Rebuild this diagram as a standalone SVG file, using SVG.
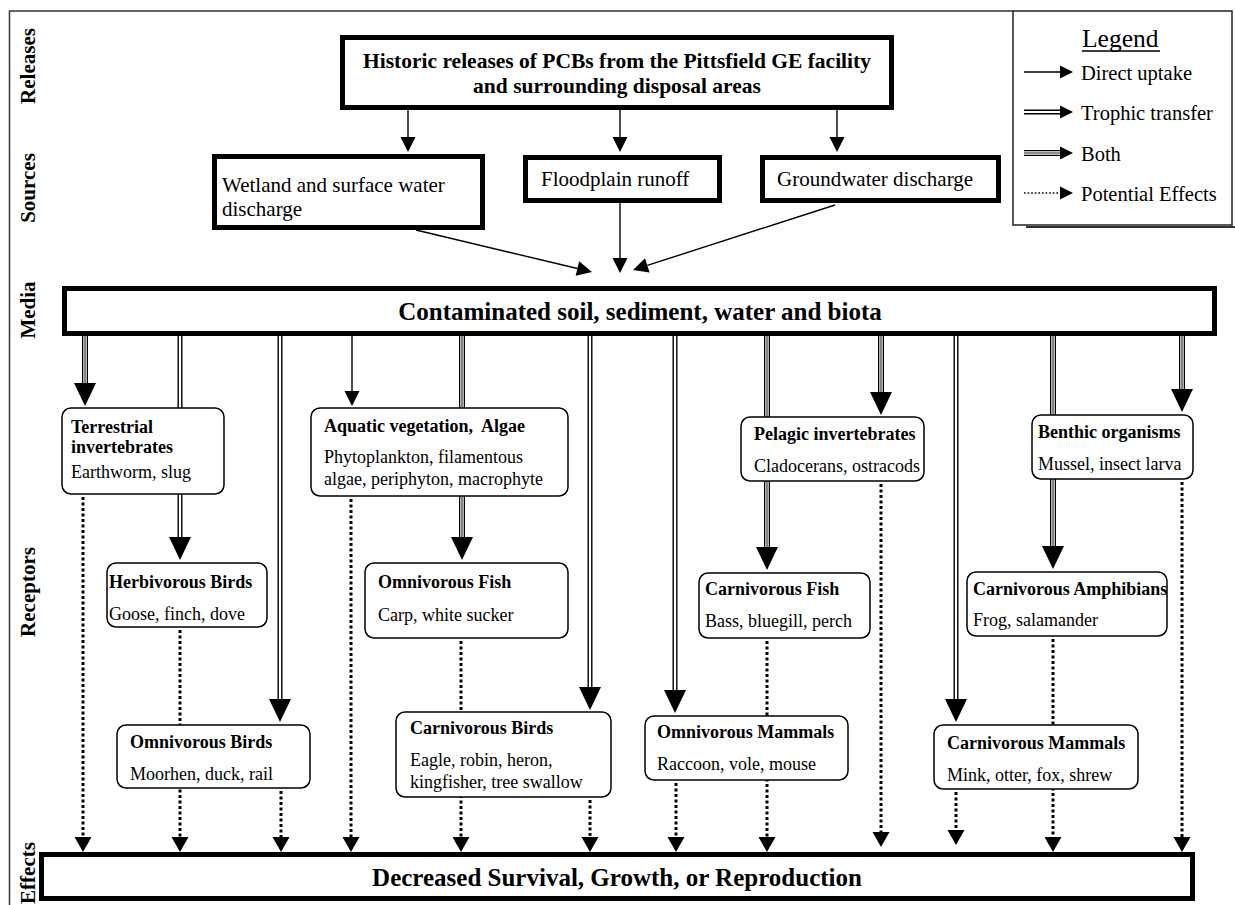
<svg xmlns="http://www.w3.org/2000/svg" width="1235" height="905" viewBox="0 0 1235 905">
  <style>
    text { font-family: "Liberation Serif", "Times New Roman", serif; fill: #000; }
    .axis { font-size: 21px; font-weight: bold; text-anchor: middle; }
    .hdr { font-size: 21.5px; font-weight: bold; text-anchor: middle; }
    .src { font-size: 21px; }
    .big { font-size: 25px; font-weight: bold; text-anchor: middle; }
    .t { font-size: 18px; font-weight: bold; white-space: pre; }
    .d { font-size: 18px; }
    .leg { font-size: 20.5px; }
    .frame { fill: none; stroke: #333; stroke-width: 1.5; }
    .heavy { fill: #fff; stroke: #000; stroke-width: 5; }
    .node { fill: #fff; stroke: #000; stroke-width: 1.5; }
    .ln { fill: none; stroke: #000; stroke-width: 1.4; }
    .to { fill: none; stroke: #000; stroke-width: 5; }
    .ti { fill: none; stroke: #fff; stroke-width: 2.2; }
    .bo { fill: none; stroke: #000; stroke-width: 6; }
    .bi { fill: none; stroke: #fff; stroke-width: 3.4; }
    .bc { fill: none; stroke: #666; stroke-width: 1.6; }
    .dot { fill: none; stroke: #000; stroke-width: 3; stroke-dasharray: 3 2.5; }
    .dotl { fill: none; stroke: #000; stroke-width: 1.6; stroke-dasharray: 1.6 2; }
  </style>
  <defs>
    <marker id="hd-sm" markerUnits="userSpaceOnUse" viewBox="0 -10 20 20" markerWidth="20" markerHeight="20" refX="0" refY="0" orient="auto" overflow="visible">
      <path d="M0,-7.5L15,0L0,7.5Z" fill="#000"/>
    </marker>
    <marker id="hd-big" markerUnits="userSpaceOnUse" viewBox="0 -15 30 30" markerWidth="30" markerHeight="30" refX="0" refY="0" orient="auto" overflow="visible">
      <path d="M0,-11L23,0L0,11Z" fill="#000"/>
    </marker>
    <marker id="hd-dot" markerUnits="userSpaceOnUse" viewBox="0 -10 20 20" markerWidth="20" markerHeight="20" refX="0" refY="0" orient="auto" overflow="visible">
      <path d="M0,-8.5L15,0L0,8.5Z" fill="#000"/>
    </marker>
    <marker id="hd-leg" markerUnits="userSpaceOnUse" viewBox="0 -10 20 20" markerWidth="20" markerHeight="20" refX="0" refY="0" orient="auto" overflow="visible">
      <path d="M0,-6.5L13,0L0,6.5Z" fill="#000"/>
    </marker>
  </defs>

  <rect width="1235" height="905" fill="#fff"/>

  <!-- outer frame -->
  <path class="frame" d="M9.5,905V11H1013"/>

  <!-- tier labels -->
  <g id="tiers">
    <text class="axis" transform="translate(35,66) rotate(-90)">Releases</text>
    <text class="axis" transform="translate(35,188) rotate(-90)">Sources</text>
    <text class="axis" transform="translate(35,310) rotate(-90)">Media</text>
    <text class="axis" transform="translate(35,592) rotate(-90)">Receptors</text>
    <text class="axis" transform="translate(35,873) rotate(-90)">Effects</text>
  </g>

  <!-- connectors -->
  <g id="connectors">
    <!-- releases to sources -->
    <path class="ln" d="M408,110V137" marker-end="url(#hd-sm)"/>
    <path class="ln" d="M620,110V137" marker-end="url(#hd-sm)"/>
    <path class="ln" d="M837,110V137" marker-end="url(#hd-sm)"/>
    <!-- sources to media -->
    <path class="ln" d="M416,230L577.4,268.5" marker-end="url(#hd-sm)"/>
    <path class="ln" d="M620,203V258" marker-end="url(#hd-sm)"/>
    <path class="ln" d="M835,205L647.3,265.4" marker-end="url(#hd-sm)"/>

    <!-- media to receptors: both -->
    <path class="bo" d="M85,336V383" marker-end="url(#hd-big)"/><path class="bi" d="M85,336V383"/><path class="bc" d="M85,336V383"/>
    <path class="bo" d="M462,336V537" marker-end="url(#hd-big)"/><path class="bi" d="M462,336V537"/><path class="bc" d="M462,336V537"/>
    <path class="bo" d="M767,336V547" marker-end="url(#hd-big)"/><path class="bi" d="M767,336V547"/><path class="bc" d="M767,336V547"/>
    <path class="bo" d="M881,336V392" marker-end="url(#hd-big)"/><path class="bi" d="M881,336V392"/><path class="bc" d="M881,336V392"/>
    <path class="bo" d="M1053,336V546" marker-end="url(#hd-big)"/><path class="bi" d="M1053,336V546"/><path class="bc" d="M1053,336V546"/>
    <path class="bo" d="M1182,336V389" marker-end="url(#hd-big)"/><path class="bi" d="M1182,336V389"/><path class="bc" d="M1182,336V389"/>

    <!-- media to receptors: trophic transfer -->
    <path class="to" d="M180,336V537" marker-end="url(#hd-big)"/><path class="ti" d="M180,336V537"/>
    <path class="to" d="M280,336V699" marker-end="url(#hd-big)"/><path class="ti" d="M280,336V699"/>
    <path class="to" d="M590,336V687" marker-end="url(#hd-big)"/><path class="ti" d="M590,336V687"/>
    <path class="to" d="M675,336V690" marker-end="url(#hd-big)"/><path class="ti" d="M675,336V690"/>
    <path class="to" d="M956,336V699" marker-end="url(#hd-big)"/><path class="ti" d="M956,336V699"/>

    <!-- media to receptors: direct uptake -->
    <path class="ln" d="M352,336V391" marker-end="url(#hd-sm)"/>

    <!-- receptors to effects -->
    <path class="dot" d="M83,497V837" marker-end="url(#hd-dot)"/>
    <path class="dot" d="M180,630V837" marker-end="url(#hd-dot)"/>
    <path class="dot" d="M281,791V837" marker-end="url(#hd-dot)"/>
    <path class="dot" d="M351,499V837" marker-end="url(#hd-dot)"/>
    <path class="dot" d="M461,641V837" marker-end="url(#hd-dot)"/>
    <path class="dot" d="M590,800V837" marker-end="url(#hd-dot)"/>
    <path class="dot" d="M676,783V837" marker-end="url(#hd-dot)"/>
    <path class="dot" d="M767,641V837" marker-end="url(#hd-dot)"/>
    <path class="dot" d="M881,484V832" marker-end="url(#hd-dot)"/>
    <path class="dot" d="M956,792V830" marker-end="url(#hd-dot)"/>
    <path class="dot" d="M1053,639V837" marker-end="url(#hd-dot)"/>
    <path class="dot" d="M1182,482V837" marker-end="url(#hd-dot)"/>
  </g>

  <!-- releases -->
  <g id="releases">
    <rect class="heavy" x="342.5" y="37.5" width="549" height="70"/>
    <text class="hdr" x="617" y="68">Historic releases of PCBs from the Pittsfield GE facility</text>
    <text class="hdr" x="617" y="93">and surrounding disposal areas</text>
  </g>

  <!-- sources -->
  <g id="src-wetland">
    <rect class="heavy" x="214.5" y="156.5" width="268" height="71"/>
    <text class="src" x="222" y="192">Wetland and surface water</text>
    <text class="src" x="222" y="216">discharge</text>
  </g>
  <g id="src-floodplain">
    <rect class="heavy" x="525.5" y="157.5" width="194" height="43"/>
    <text class="src" x="541" y="186">Floodplain runoff</text>
  </g>
  <g id="src-groundwater">
    <rect class="heavy" x="762.5" y="157.5" width="236" height="43"/>
    <text class="src" x="777" y="186">Groundwater discharge</text>
  </g>

  <!-- media -->
  <g id="media">
    <rect class="heavy" x="64.5" y="288.5" width="1150" height="45"/>
    <text class="big" x="640" y="320">Contaminated soil, sediment, water and biota</text>
  </g>

  <!-- receptors -->
  <g id="terrestrial-invertebrates">
    <rect class="node" x="62" y="408" width="162" height="86" rx="9"/>
    <text class="t" x="71" y="433">Terrestrial</text>
    <text class="t" x="71" y="453">invertebrates</text>
    <text class="d" x="71" y="478">Earthworm, slug</text>
  </g>
  <g id="herbivorous-birds">
    <rect class="node" x="107" y="563" width="160" height="64" rx="9"/>
    <text class="t" x="109" y="588">Herbivorous Birds</text>
    <text class="d" x="109" y="620">Goose, finch, dove</text>
  </g>
  <g id="aquatic-vegetation">
    <rect class="node" x="311" y="408" width="257" height="88" rx="9"/>
    <text class="t" x="324" y="432">Aquatic vegetation,  Algae</text>
    <text class="d" x="324" y="463">Phytoplankton, filamentous</text>
    <text class="d" x="324" y="485">algae, periphyton, macrophyte</text>
  </g>
  <g id="omnivorous-fish">
    <rect class="node" x="365" y="563" width="203" height="75" rx="9"/>
    <text class="t" x="378" y="588">Omnivorous Fish</text>
    <text class="d" x="378" y="621">Carp, white sucker</text>
  </g>
  <g id="pelagic-invertebrates">
    <rect class="node" x="741" y="417" width="183" height="64" rx="9"/>
    <text class="t" x="754" y="440">Pelagic invertebrates</text>
    <text class="d" x="754" y="472">Cladocerans, ostracods</text>
  </g>
  <g id="carnivorous-fish">
    <rect class="node" x="699" y="573" width="171" height="65" rx="9"/>
    <text class="t" x="705" y="595">Carnivorous Fish</text>
    <text class="d" x="705" y="627">Bass, bluegill, perch</text>
  </g>
  <g id="benthic-organisms">
    <rect class="node" x="1032" y="415" width="161" height="64" rx="9"/>
    <text class="t" x="1038" y="438">Benthic organisms</text>
    <text class="d" x="1038" y="470">Mussel, insect larva</text>
  </g>
  <g id="carnivorous-amphibians">
    <rect class="node" x="967" y="572" width="200" height="64" rx="9"/>
    <text class="t" x="973" y="595">Carnivorous Amphibians</text>
    <text class="d" x="973" y="626">Frog, salamander</text>
  </g>
  <g id="omnivorous-birds">
    <rect class="node" x="117" y="725" width="193" height="63" rx="9"/>
    <text class="t" x="130" y="748">Omnivorous Birds</text>
    <text class="d" x="130" y="780">Moorhen, duck, rail</text>
  </g>
  <g id="carnivorous-birds">
    <rect class="node" x="396" y="712" width="215" height="85" rx="9"/>
    <text class="t" x="410" y="734">Carnivorous Birds</text>
    <text class="d" x="410" y="766">Eagle, robin, heron,</text>
    <text class="d" x="410" y="788">kingfisher, tree swallow</text>
  </g>
  <g id="omnivorous-mammals">
    <rect class="node" x="645" y="716" width="203" height="64" rx="9"/>
    <text class="t" x="657" y="738">Omnivorous Mammals</text>
    <text class="d" x="657" y="770">Raccoon, vole, mouse</text>
  </g>
  <g id="carnivorous-mammals">
    <rect class="node" x="934" y="725" width="204" height="64" rx="9"/>
    <text class="t" x="947" y="749">Carnivorous Mammals</text>
    <text class="d" x="947" y="781">Mink, otter, fox, shrew</text>
  </g>

  <!-- effects -->
  <g id="effects">
    <rect class="heavy" x="41.5" y="854.5" width="1151" height="44"/>
    <text class="big" x="617" y="886">Decreased Survival, Growth, or Reproduction</text>
  </g>

  <!-- legend -->
  <g id="legend">
    <path d="M1026,227H1235" fill="none" stroke="#333" stroke-width="2"/>
    <rect x="1013" y="11" width="219" height="214" fill="#fff" stroke="#222" stroke-width="1.5"/>
    <text x="1082" y="47" font-size="25.5">Legend</text>
    <path d="M1082,51H1160" fill="none" stroke="#000" stroke-width="1.3"/>
    <path class="ln" d="M1024,72H1060" stroke-width="2" marker-end="url(#hd-leg)"/>
    <text class="leg" x="1081" y="80">Direct uptake</text>
    <path class="to" d="M1024,112H1060" stroke-width="5" marker-end="url(#hd-leg)"/><path class="ti" d="M1024,112H1060" stroke-width="1.8"/>
    <text class="leg" x="1081" y="120">Trophic transfer</text>
    <path class="bo" d="M1024,153H1060" stroke-width="6" marker-end="url(#hd-leg)"/><path class="bi" d="M1024,153H1060" stroke-width="3.4"/><path class="bc" d="M1024,153H1060" stroke-width="1.6"/>
    <text class="leg" x="1081" y="161">Both</text>
    <path class="dotl" d="M1024,193H1060" marker-end="url(#hd-leg)"/>
    <text class="leg" x="1081" y="201">Potential Effects</text>
  </g>
</svg>
